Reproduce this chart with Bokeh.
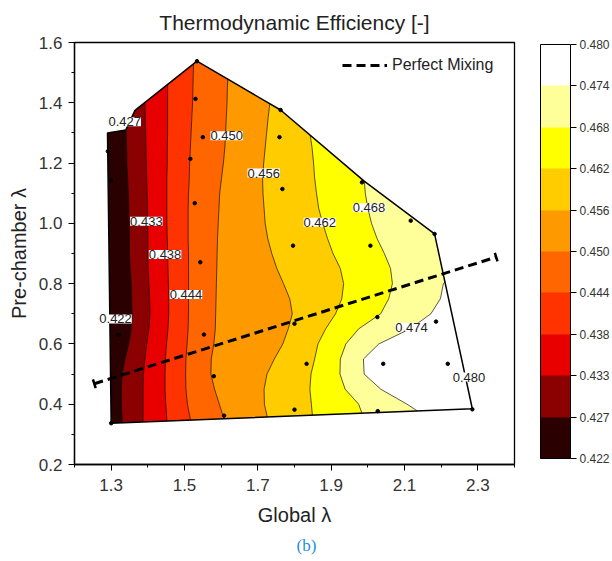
import math
from bokeh.plotting import figure
from bokeh.models import (Range1d, FixedTicker, NumeralTickFormatter, ColorBar, LinearColorMapper,
                          ColumnDataSource, LabelSet, Title, Legend, LegendItem)
from bokeh.core.properties import value
from bokeh.embed import file_html
from bokeh.resources import INLINE

# ---------------- data ----------------
levels = [0.422, 0.427, 0.433, 0.438, 0.444, 0.450, 0.456, 0.462, 0.468, 0.474, 0.480]
level_labels = ["0.422", "0.427", "0.433", "0.438", "0.444", "0.450",
                "0.456", "0.462", "0.468", "0.474", "0.480"]
band_colors = ["#2b0000", "#8b0000", "#e80000", "#ff3300", "#ff6600",
               "#ff9900", "#ffcc00", "#ffff00", "#ffff99", "#ffffff"]

# pre-chamber lambda at which the iso-lines were read
y_samples = [0.30, 0.35, 0.40, 0.45, 0.50, 0.55, 0.60, 0.65, 0.70, 0.75, 0.80, 0.85, 0.90,
             0.95, 1.00, 1.05, 1.10, 1.15, 1.20, 1.25, 1.30, 1.35, 1.40, 1.45, 1.50, 1.55]
# global lambda of each iso-efficiency line at those pre-chamber lambdas
iso_427 = [1.330, 1.330, 1.328, 1.328, 1.330, 1.338, 1.348, 1.355, 1.357, 1.356, 1.355, 1.352, 1.350,
           1.350, 1.349, 1.348, 1.347, 1.345, 1.343, 1.342, 1.341, 1.341, 1.341, 1.341, 1.341, 1.341]
iso_433 = [1.388, 1.387, 1.387, 1.387, 1.388, 1.392, 1.397, 1.403, 1.406, 1.405, 1.403, 1.401, 1.400,
           1.400, 1.400, 1.399, 1.398, 1.397, 1.396, 1.395, 1.394, 1.393, 1.392, 1.392, 1.392, 1.392]
iso_438 = [1.452, 1.452, 1.449, 1.447, 1.447, 1.448, 1.451, 1.455, 1.457, 1.457, 1.456, 1.455, 1.454,
           1.453, 1.452, 1.452, 1.452, 1.452, 1.453, 1.453, 1.454, 1.454, 1.454, 1.454, 1.454, 1.454]
iso_444 = [1.518, 1.516, 1.508, 1.504, 1.503, 1.504, 1.507, 1.510, 1.511, 1.511, 1.511, 1.511, 1.511,
           1.510, 1.510, 1.510, 1.511, 1.513, 1.514, 1.516, 1.518, 1.520, 1.522, 1.523, 1.524, 1.525]
iso_450 = [1.615, 1.608, 1.595, 1.582, 1.572, 1.573, 1.580, 1.584, 1.585, 1.586, 1.587, 1.588, 1.589,
           1.590, 1.592, 1.594, 1.596, 1.601, 1.606, 1.610, 1.612, 1.614, 1.616, 1.617, 1.619, 1.620]
iso_456 = [1.730, 1.727, 1.718, 1.717, 1.725, 1.745, 1.768, 1.783, 1.794, 1.787, 1.770, 1.752, 1.738,
           1.727, 1.720, 1.717, 1.714, 1.713, 1.716, 1.720, 1.724, 1.728, 1.733, 1.740, 1.745, 1.750]
iso_462 = [1.852, 1.850, 1.846, 1.842, 1.845, 1.855, 1.864, 1.885, 1.912, 1.929, 1.934, 1.925, 1.905,
           1.890, 1.877, 1.866, 1.860, 1.855, 1.852, 1.848, 1.842, 1.850, 1.860, 1.870, 1.870, 1.870]
iso_468 = [2.000, 1.990, 1.975, 1.938, 1.924, 1.925, 1.940, 1.975, 2.035, 2.057, 2.067, 2.062, 2.045,
           2.025, 2.010, 2.000, 1.993, 1.990, 2.000, 2.050, 2.100, 2.150, 2.200, 2.250, 2.300, 2.320]
iso_474 = [2.220, 2.170, 2.107, 2.035, 1.990, 1.988, 2.030, 2.115, 2.172, 2.198, 2.206, 2.260, 2.330,
           2.330, 2.330, 2.330, 2.330, 2.330, 2.330, 2.330, 2.330, 2.330, 2.330, 2.330, 2.330, 2.330]
iso_lines = [iso_427, iso_433, iso_438, iso_444, iso_450, iso_456, iso_462, iso_468, iso_474]

# boundary of the measured operating region
hull_x = [1.300, 2.285, 2.182, 1.990, 1.762, 1.534, 1.365, 1.340, 1.290]
hull_y = [0.337, 0.385, 0.965, 1.140, 1.376, 1.538, 1.375, 1.310, 1.300]

# measured operating points
pts_x = [1.300, 1.291, 1.300, 1.320, 1.530, 1.534, 1.550, 1.516, 1.528, 1.543, 1.553, 1.580, 1.608,
         1.762, 1.759, 1.767, 1.796, 1.800, 1.833, 1.800, 1.984, 2.117, 2.182, 2.007, 2.026, 2.186,
         2.042, 2.218, 2.027, 2.285]
pts_y = [0.337, 1.239, 1.142, 0.630, 1.413, 1.538, 1.286, 1.214, 1.067, 0.871, 0.631, 0.493, 0.362,
         1.376, 1.286, 1.114, 0.926, 0.667, 0.534, 0.382, 1.136, 1.009, 0.965, 0.926, 0.689, 0.674,
         0.534, 0.534, 0.377, 0.383]

# perfect-mixing line
mix_x = [1.254, 2.350]
mix_y = [0.468, 0.888]

# contour label placement
clabel_x = [1.312, 1.337, 1.396, 1.447, 1.504, 1.615, 1.716, 1.869, 2.003, 2.119, 2.276]
clabel_y = [0.683, 1.337, 1.007, 0.897, 0.764, 1.291, 1.167, 1.004, 1.052, 0.655, 0.490]

x_ticks = [1.3, 1.5, 1.7, 1.9, 2.1, 2.3]
x_minor = [1.2, 1.4, 1.6, 1.8, 2.0, 2.2, 2.4]
y_ticks = [0.2, 0.4, 0.6, 0.8, 1.0, 1.2, 1.4, 1.6]
y_minor = [0.3, 0.5, 0.7, 0.9, 1.1, 1.3, 1.5]

# ---------------- figure ----------------
FONT = "Liberation Sans"
TXT = "#333333"

p = figure(width=612, height=561, x_range=Range1d(1.2, 2.4), y_range=Range1d(0.2, 1.6),
           output_backend="svg", toolbar_location=None,
           min_border_left=74, min_border_right=98, min_border_top=42, min_border_bottom=97)
p.grid.visible = False
p.outline_line_color = "black"
p.outline_line_width = 1.3
p.background_fill_color = "white"

p.title.text = "Thermodynamic Efficiency [-]"
p.title.align = "center"
p.title.text_font = FONT
p.title.text_font_size = "21px"
p.title.text_font_style = "normal"
p.title.text_color = "#222222"
p.title.standoff = 17

# filled bands: base colour over the whole region, then each band to the right of its iso-line
p.patch(hull_x, hull_y, fill_color=band_colors[0], line_color=None)
top_y = y_samples[-1]
bot_y = y_samples[0]
for k, iso in enumerate(iso_lines):
    xs = list(iso) + [2.33, 2.33]
    ys = list(y_samples) + [top_y, bot_y]
    p.patch(xs, ys, fill_color=band_colors[k + 1], line_color=None)

# iso-lines
p.multi_line(xs=[list(i) for i in iso_lines], ys=[list(y_samples)] * len(iso_lines),
             line_color="#111111", line_width=0.7)

# white mask outside the measured region (kept inside the frame)
outer_x = [1.22, 2.38, 2.38, 1.22]
outer_y = [0.24, 0.24, 1.58, 1.58]
p.multi_polygons(xs=[[[outer_x, hull_x]]], ys=[[[outer_y, hull_y]]],
                 fill_color="white", line_color=None)

# region outline
p.patch(hull_x, hull_y, fill_color=None, line_color="black", line_width=1.5)

# points
p.scatter(pts_x, pts_y, size=3.5, color="black")

# perfect mixing
r_mix = p.line(mix_x, mix_y, line_color="black", line_width=3, line_dash="9 5")
ang = math.atan2((mix_y[1] - mix_y[0]) * 301.5, (mix_x[1] - mix_x[0]) * 363.0) + math.pi / 2
p.scatter(mix_x, mix_y, marker="dash", size=9, angle=ang, line_color="black", line_width=2.5)

# contour labels
lsrc = ColumnDataSource(dict(x=clabel_x, y=clabel_y, t=level_labels))
p.add_layout(LabelSet(x="x", y="y", text="t", source=lsrc, text_align="center",
                      text_baseline="middle", text_font=value(FONT), text_font_size=value("13px"),
                      text_color="#222222", background_fill_color="white"))

legend = Legend(items=[LegendItem(label="Perfect Mixing", renderers=[r_mix])],
                location=(268, 390), border_line_color=None, background_fill_alpha=0,
                label_text_font=FONT, label_text_font_size="16px", label_text_color="#222222",
                glyph_width=45, glyph_height=16, padding=2, margin=0, spacing=0,
                label_standoff=5)
p.add_layout(legend)

# axes
for ax, tk, mn, lab in ((p.xaxis[0], x_ticks, x_minor, "Global λ"),
                        (p.yaxis[0], y_ticks, y_minor, "Pre-chamber λ")):
    ax.ticker = FixedTicker(ticks=tk, minor_ticks=mn)
    ax.formatter = NumeralTickFormatter(format="0.0")
    ax.axis_label = lab
    ax.axis_label_text_font = FONT
    ax.axis_label_text_font_size = "20px"
    ax.axis_label_text_font_style = "normal"
    ax.axis_label_text_color = "#222222"
    ax.major_label_text_font = FONT
    ax.major_label_text_font_size = "17px"
    ax.major_label_text_color = TXT
    ax.axis_line_color = "black"
    ax.axis_line_width = 1.3
    ax.major_tick_line_color = "black"
    ax.minor_tick_line_color = "black"
    ax.major_tick_in = 0
    ax.major_tick_out = 6
    ax.minor_tick_in = 0
    ax.minor_tick_out = 3
p.xaxis.major_label_standoff = 8
p.xaxis.axis_label_standoff = 10
p.yaxis.major_label_standoff = 6
p.yaxis.axis_label_standoff = 6

# colour bar
mapper = LinearColorMapper(palette=band_colors, low=0, high=10)
cb = ColorBar(color_mapper=mapper, ticker=FixedTicker(ticks=list(range(11))),
              major_label_overrides={i: t for i, t in enumerate(level_labels)},
              width=30, height=414, padding=0, margin=0, location=(26, 6),
              bar_line_color="black", bar_line_width=1,
              major_tick_line_color="black", major_tick_in=0, major_tick_out=6,
              label_standoff=3, major_label_text_font=FONT, major_label_text_font_size="12px",
              major_label_text_color=TXT, background_fill_color=None, border_line_color=None)
p.add_layout(cb, "right")

p.add_layout(Title(text="(b)", align="left", offset=222, text_font="Liberation Serif",
                   text_font_size="17px", text_font_style="normal", text_color="#1E90E0"), "below")

open("out.html", "w").write(file_html(p, INLINE))
